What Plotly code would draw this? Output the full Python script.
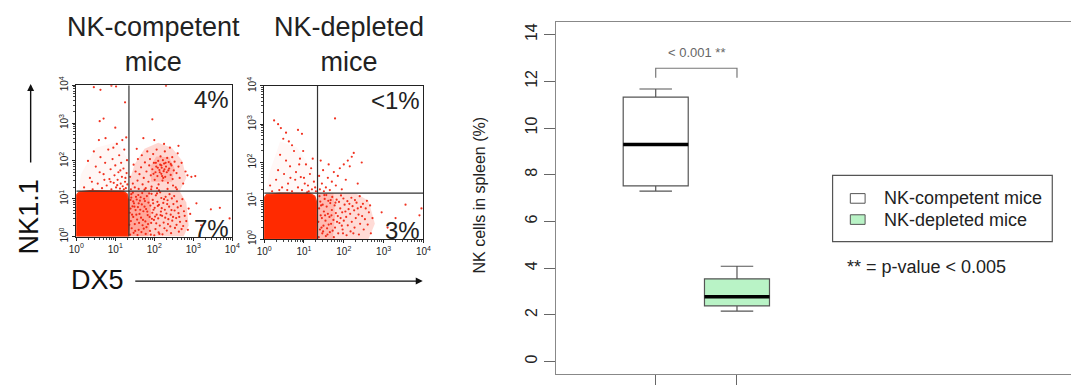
import math
import plotly.graph_objects as go

W, H = 1079, 390
FONT = "Arial, Liberation Sans, Helvetica, sans-serif"

# ---------------- flow cytometry data (log10 units of DX5 / NK1.1) ----------------
decade_ticks = [0, 1, 2, 3, 4]
decade_labels = ["10<sup>%d</sup>" % k for k in decade_ticks]
panel_titles = ["NK-competent<br>mice", "NK-depleted<br>mice"]
quadrant_pct = [("4%", "7%"), ("<1%", "3%")]
gate_x = [1.35, 1.34]
gate_y = [1.20, 1.20]

# dense lymphocyte core (outline of the saturated area)
core1 = [(0, 0), (1.33, 0), (1.35, 0.35), (1.34, 0.95), (1.30, 1.13), (1.20, 1.20), (0.35, 1.21), (0.08, 1.18), (0, 1.10)]
core2 = [(0, 0), (1.31, 0), (1.33, 0.40), (1.32, 0.95), (1.27, 1.12), (1.15, 1.19), (0.40, 1.20), (0.06, 1.16), (0, 1.08)]

# outlines of the dotted clouds, with their read density (0..1)
clouds1 = [
    ([(1.35, 0), (2.75, 0), (2.88, 0.3), (2.82, 0.9), (2.65, 1.2), (1.35, 1.2)], 0.22),
    ([(1.35, 0), (1.85, 0), (1.92, 0.6), (1.86, 1.2), (1.35, 1.2)], 0.25),
    ([(1.40, 1.2), (2.65, 1.2), (2.82, 1.55), (2.72, 2.0), (2.45, 2.35), (2.10, 2.48), (1.75, 2.32),
      (1.50, 1.92), (1.37, 1.5)], 0.18),
    ([(1.92, 1.45), (2.45, 1.45), (2.52, 1.8), (2.38, 2.1), (2.05, 2.12), (1.90, 1.85)], 0.18),
    ([(0.05, 1.2), (1.35, 1.2), (1.35, 2.0), (1.05, 2.5), (0.5, 2.35), (0.12, 1.65)], 0.04),
]
clouds2 = [
    ([(1.33, 0), (2.62, 0), (2.78, 0.4), (2.62, 1.0), (2.30, 1.2), (1.33, 1.2)], 0.17),
    ([(1.33, 0), (1.72, 0), (1.78, 0.6), (1.74, 1.2), (1.33, 1.2)], 0.18),
    ([(0.05, 1.2), (1.33, 1.2), (1.22, 1.8), (0.82, 2.4), (0.40, 2.55), (0.12, 1.7)], 0.03),
]

dots1 = [
    # lower-right quadrant
    (1.38,0.05),(1.42,0.22),(1.40,0.41),(1.37,0.63),(1.44,0.80),(1.39,0.97),(1.41,1.12),
    (1.47,0.10),(1.50,0.33),(1.46,0.52),(1.52,0.70),(1.48,0.88),(1.53,1.05),(1.45,1.16),
    (1.57,0.04),(1.60,0.18),(1.56,0.45),(1.62,0.60),(1.58,0.78),(1.63,0.95),(1.59,1.10),
    (1.67,0.12),(1.70,0.30),(1.66,0.50),(1.72,0.67),(1.68,0.85),(1.74,1.00),(1.69,1.15),
    (1.78,0.07),(1.80,0.25),(1.77,0.40),(1.83,0.57),(1.79,0.73),(1.85,0.90),(1.81,1.07),
    (1.89,0.15),(1.92,0.36),(1.88,0.52),(1.95,0.63),(1.90,0.82),(1.96,0.97),(1.93,1.13),
    (2.00,0.03),(2.03,0.20),(1.99,0.44),(2.06,0.58),(2.01,0.76),(2.08,0.92),(2.04,1.09),
    (2.11,0.11),(2.14,0.29),(2.10,0.48),(2.17,0.66),(2.12,0.84),(2.18,1.02),(2.15,1.17),
    (2.21,0.06),(2.24,0.37),(2.20,0.55),(2.27,0.71),(2.23,0.89),(2.29,1.05),
    (2.32,0.16),(2.35,0.33),(2.31,0.61),(2.38,0.79),(2.34,0.96),(2.39,1.12),
    (2.43,0.09),(2.46,0.42),(2.42,0.58),(2.49,0.86),(2.45,1.01),
    (2.53,0.23),(2.56,0.49),(2.52,0.69),(2.58,0.93),
    (2.63,0.13),(2.66,0.39),(2.62,0.62),(2.68,0.81),
    (2.74,0.28),(2.78,0.55),(2.72,0.99),(2.86,0.18),(2.88,0.74),
    (1.36,0.31),(1.43,0.58),(1.39,0.74),(1.46,0.93),(1.41,1.03),(1.51,0.15),(1.54,0.58),(1.49,0.79),
    (1.55,0.98),(1.61,0.36),(1.64,0.71),(1.60,0.88),(1.65,1.04),(1.73,0.21),(1.71,0.44),(1.75,0.79),
    (1.76,0.94),(1.84,0.33),(1.82,0.66),(1.87,1.14),(1.91,0.05),(1.94,0.47),(1.98,0.71),(1.97,0.88),
    (2.05,0.35),(2.02,0.53),(2.09,0.81),(2.07,1.14),(2.13,0.07),(2.16,0.57),(2.19,0.75),(2.26,0.22),
    (2.28,0.50),(2.25,0.99),(2.36,0.46),(2.33,0.86),(2.41,0.27),(2.44,0.70),(2.48,0.52),(2.51,1.07),
    (2.57,0.31),(2.60,0.77),(2.64,0.52),(2.70,0.20),(2.76,0.67),(2.82,0.41),(2.92,0.60),
    (3.08,0.88),(3.45,0.72),(3.68,0.76),(3.93,0.48),(3.20,0.30),
    # upper-right quadrant
    (1.40,1.25),(1.45,1.40),(1.38,1.58),(1.50,1.30),(1.52,1.72),(1.47,1.90),(1.57,1.48),(1.60,1.26),
    (1.62,1.65),(1.58,2.05),(1.66,1.83),(1.70,1.38),(1.68,2.15),(1.73,1.55),(1.76,1.96),(1.78,1.28),
    (1.80,1.72),(1.82,2.25),(1.85,1.45),(1.87,1.88),(1.89,2.05),(1.91,1.62),(1.93,1.32),(1.95,1.78),
    (1.97,2.18),(1.99,1.95),(2.01,1.50),(2.03,1.70),(2.05,1.85),(2.06,2.30),(2.08,1.60),(2.10,2.00),
    (2.11,1.38),(2.13,1.76),(2.15,1.90),(2.16,2.12),(2.18,1.66),(2.19,1.82),(2.21,1.48),(2.22,2.02),
    (2.24,1.73),(2.25,1.93),(2.27,2.25),(2.28,1.58),(2.30,1.85),(2.32,1.70),(2.33,2.08),(2.35,1.42),
    (2.37,1.97),(2.38,1.80),(2.40,2.35),(2.42,1.63),(2.44,1.88),(2.46,2.10),(2.47,1.52),(2.50,1.75),
    (2.52,1.98),(2.55,1.30),(2.57,1.68),(2.60,2.20),(2.62,1.85),(2.65,1.55),(2.70,1.95),(2.74,1.40),
    (2.80,1.72),(2.85,1.62),(2.95,1.58),(3.05,1.60),(2.62,2.40),(2.00,2.55),(1.72,2.60),(1.55,2.32),
    (2.25,2.45),(2.48,1.35),(1.92,1.25),(2.07,1.28),(2.12,1.22),(1.75,1.24),(2.34,1.26),(2.58,1.25),
    (2.20,1.60),(2.26,1.78),(2.14,1.70),(2.29,1.95),(2.09,1.82),(2.36,1.75),(2.18,1.88),(2.04,1.95),
    (1.98,1.66),(2.42,1.92),(2.23,1.55),
    # upper-left quadrant
    (0.20,1.30),(0.35,1.55),(0.42,1.25),(0.50,1.85),(0.55,1.40),(0.62,2.10),(0.66,1.28),(0.70,1.65),
    (0.74,1.95),(0.78,1.35),(0.82,2.30),(0.85,1.52),(0.88,1.78),(0.90,1.25),(0.93,2.05),(0.96,1.42),
    (0.98,1.62),(1.00,1.88),(1.02,1.30),(1.04,2.45),(1.06,1.50),(1.08,1.70),(1.10,2.15),(1.12,1.27),
    (1.14,1.40),(1.15,1.95),(1.17,1.58),(1.19,1.33),(1.21,1.80),(1.23,2.30),(1.25,1.45),(1.27,1.28),
    (1.29,1.68),(1.31,1.38),(1.30,2.02),(0.45,2.25),(0.30,2.00),(0.58,2.55),(0.75,2.60),(0.95,2.35),
    (1.18,2.55),(1.28,2.62),(1.22,1.25),(1.05,1.36),(0.88,1.45),(0.72,1.50),(1.26,1.55),(1.13,1.75),
    (0.60,1.70),(0.40,1.45),
    (0.60,3.05),(0.70,3.12),(1.00,2.88),(1.25,3.55),(0.45,3.95),(0.62,3.88),(0.90,3.99),(1.02,3.97),
    (2.30,3.99),(1.95,3.10),
]

dots2 = [
    # lower-right quadrant
    (1.37,0.05),(1.40,0.25),(1.36,0.45),(1.42,0.62),(1.38,0.80),(1.41,0.98),(1.39,1.12),
    (1.46,0.15),(1.49,0.35),(1.45,0.55),(1.50,0.72),(1.47,0.90),(1.52,1.05),
    (1.55,0.08),(1.58,0.28),(1.54,0.48),(1.60,0.66),(1.57,0.85),(1.61,1.00),(1.56,1.15),
    (1.65,0.18),(1.68,0.40),(1.64,0.58),(1.70,0.76),(1.66,0.94),(1.71,1.10),
    (1.75,0.05),(1.78,0.30),(1.74,0.50),(1.80,0.68),(1.77,0.88),(1.82,1.03),
    (1.86,0.15),(1.89,0.42),(1.85,0.60),(1.91,0.80),(1.88,0.97),(1.93,1.14),
    (1.97,0.25),(2.00,0.48),(1.96,0.70),(2.02,0.90),(1.99,1.06),
    (2.07,0.10),(2.10,0.36),(2.06,0.58),(2.12,0.78),(2.09,0.99),
    (2.17,0.20),(2.20,0.45),(2.16,0.66),(2.22,0.86),(2.19,1.08),
    (2.27,0.30),(2.30,0.55),(2.26,0.75),(2.32,0.95),
    (2.38,0.12),(2.41,0.40),(2.37,0.64),(2.43,0.84),(2.40,1.12),
    (2.50,0.25),(2.53,0.52),(2.48,0.92),(2.60,0.38),(2.63,0.70),(2.58,1.00),(2.68,0.15),(2.72,0.55),(2.66,0.88),
    (1.44,0.30),(1.53,0.62),(1.48,0.20),(1.62,0.38),(1.59,0.12),(1.72,0.22),(1.69,0.62),(1.83,0.45),
    (1.79,0.95),(1.95,0.35),(1.92,0.55),(2.04,0.72),(2.14,0.92),(2.24,0.15),(2.35,0.80),(2.46,0.60),
    (2.55,0.80),(1.43,0.88),(1.51,1.15),(1.67,1.02),(1.98,0.15),(2.28,1.02),
    (2.95,0.70),(3.10,0.30),(3.30,0.55),(3.55,0.90),(3.90,0.62),(3.95,0.80),
    # upper-left quadrant
    (0.25,3.10),(0.35,3.00),(0.42,2.90),(0.55,2.78),(0.48,2.62),(0.62,2.55),(0.70,2.45),(0.85,2.85),
    (0.95,2.75),(0.40,2.20),(0.55,2.05),(0.65,1.90),(0.75,2.30),(0.80,1.75),(0.90,2.10),(1.00,1.60),
    (1.05,1.95),(1.10,1.40),(1.15,1.70),(1.20,1.30),(1.25,1.50),(0.30,1.55),(0.45,1.35),(0.60,1.45),
    (0.70,1.25),(0.85,1.35),(0.95,1.28),(1.02,1.45),(1.12,1.25),(1.28,1.35),(0.35,1.80),(0.50,1.70),
    (0.78,1.55),(0.92,1.62),(1.18,1.85),(1.30,1.25),(0.20,1.25),(0.58,1.28),(0.66,1.60),(1.08,1.22),
    (0.88,1.95),(0.98,2.30),(1.22,2.10),(0.15,1.40),(0.38,1.28),
    # upper-right quadrant
    (1.40,1.30),(1.45,1.45),(1.55,1.35),(1.60,1.60),(1.70,1.50),(1.75,1.75),(1.85,1.65),(1.90,1.85),
    (2.00,1.95),(2.10,2.05),(2.20,2.15),(2.25,2.25),(2.15,1.90),(1.50,1.25),(1.65,1.28),(1.80,1.40),
    (1.95,1.30),(2.05,1.55),(1.38,1.65),(1.48,1.80),(1.78,3.15),(2.35,1.45),(2.45,2.00),(1.42,2.05),
    (1.62,1.95),
]

# ---------------- boxplot data ----------------
groups = ["NK-competent mice", "NK-depleted mice"]
positions = [1, 2]
lower_whisker = [7.30, 2.16]
q1 = [7.52, 2.38]
median = [9.29, 2.77]
q3 = [11.32, 3.54]
upper_whisker = [11.67, 4.08]
box_fill = ["#ffffff", "#b9f3c6"]
y_ticks = [0, 2, 4, 6, 8, 10, 12, 14]
bracket_low, bracket_high = 12.15, 12.56
p_label = "< 0.001 **"

# ---------------- layout helpers ----------------
def px(x):
    return x / W

def py(y):
    return 1 - y / H

RED_DOT = "#f01c08"

fig = go.Figure()

panels = [
    dict(core=core1, clouds=clouds1, dots=dots1, xd=[px(69.3), px(227.7)], yd=[py(236.7), py(79.3)]),
    dict(core=core2, clouds=clouds2, dots=dots2, xd=[px(260.0), px(421.7)], yd=[py(239.3), py(80.0)]),
]

minor_vals = []
for k in range(4):
    for m in range(2, 10):
        minor_vals.append(k + math.log10(m))


def closed(poly):
    return [c[0] for c in poly] + [poly[0][0]], [c[1] for c in poly] + [poly[0][1]]


for i, p in enumerate(panels):
    n = "" if i == 0 else str(i + 1)
    xa, ya = "x" + n, "y" + n
    for poly, dens in p["clouds"]:
        cx, cy = closed(poly)
        fig.add_trace(go.Scatter(x=cx, y=cy, fill="toself", fillcolor="rgba(255,40,10,%.3f)" % dens,
                                 mode="lines", line=dict(width=0, color="rgba(0,0,0,0)"), xaxis=xa, yaxis=ya,
                                 hoverinfo="skip"))
    cx, cy = closed(p["core"])
    fig.add_trace(go.Scatter(x=cx, y=cy, fill="toself", fillcolor="#ff2a00", mode="lines",
                             line=dict(width=1.5, color="#ff3a10"), xaxis=xa, yaxis=ya, hoverinfo="skip"))
    fig.add_trace(go.Scatter(x=[d[0] for d in p["dots"]], y=[d[1] for d in p["dots"]], mode="markers",
                             marker=dict(size=2.2, color=RED_DOT, opacity=0.9), xaxis=xa, yaxis=ya,
                             hoverinfo="skip"))
    # quadrant gate lines
    fig.add_shape(type="line", xref=xa, yref=ya, x0=gate_x[i], x1=gate_x[i], y0=0, y1=4,
                  line=dict(color="#333333", width=1.2))
    fig.add_shape(type="line", xref=xa, yref=ya, x0=0, x1=4, y0=gate_y[i], y1=gate_y[i],
                  line=dict(color="#333333", width=1.2))
    axcommon = dict(range=[0, 4], showgrid=False, zeroline=False, showline=True, linecolor="#222",
                    linewidth=1.2, mirror=True, ticks="outside", ticklen=3, tickcolor="#222",
                    tickvals=decade_ticks, ticktext=decade_labels,
                    tickfont=dict(family=FONT, size=10, color="#222"),
                    minor=dict(tickvals=minor_vals, ticks="outside", ticklen=2, tickcolor="#444"))
    fig.update_layout(**{
        "xaxis" + n: dict(domain=p["xd"], anchor=ya, **axcommon),
        "yaxis" + n: dict(domain=p["yd"], anchor=xa, tickangle=-90, **axcommon),
    })
    # percentages
    top, bottom = quadrant_pct[i]
    fig.add_annotation(x=3.97, y=3.62, xref=xa, yref=ya, text=top, showarrow=False, xanchor="right",
                       yanchor="middle", font=dict(family=FONT, size=24, color="#222"))
    fig.add_annotation(x=3.97, y=0.22, xref=xa, yref=ya, text=bottom, showarrow=False, xanchor="right",
                       yanchor="middle", font=dict(family=FONT, size=24, color="#222"))

# panel titles
for cx_px, title in zip([148, 346], panel_titles):
    fig.add_annotation(x=px(cx_px), y=py(37), xref="paper", yref="paper", text=title, showarrow=False,
                       xanchor="center", yanchor="middle",
                       font=dict(family=FONT, size=27, color="#222"), align="center")

# axis names with arrows
fig.add_annotation(x=px(21), y=py(216), xref="paper", yref="paper", text="NK1.1", textangle=-90,
                   showarrow=False, xanchor="center", yanchor="middle",
                   font=dict(family=FONT, size=27, color="#111"))
fig.add_annotation(x=px(23), y=py(78), xref="paper", yref="paper", ax=0, ay=80, text="",
                   showarrow=True, arrowhead=2, arrowsize=1, arrowwidth=1.4, arrowcolor="#111")
fig.add_annotation(x=px(91), y=py(282), xref="paper", yref="paper", text="DX5",
                   showarrow=False, xanchor="center", yanchor="middle",
                   font=dict(family=FONT, size=27, color="#111"))
fig.add_annotation(x=px(421), y=py(283), xref="paper", yref="paper", ax=-289, ay=0, text="",
                   showarrow=True, arrowhead=2, arrowsize=1, arrowwidth=1.4, arrowcolor="#111")

# ---------------- boxplot ----------------
BOX_W = 0.8
for i in range(len(groups)):
    fig.add_trace(go.Box(x=[positions[i]], q1=[q1[i]], median=[median[i]], q3=[q3[i]],
                         lowerfence=[lower_whisker[i]], upperfence=[upper_whisker[i]],
                         width=BOX_W, whiskerwidth=0.5, fillcolor=box_fill[i],
                         line=dict(color="#555555", width=1.2), name=groups[i],
                         xaxis="x3", yaxis="y3", hoverinfo="skip", boxpoints=False))
    fig.add_trace(go.Scatter(x=[positions[i] - BOX_W / 2, positions[i] + BOX_W / 2],
                             y=[median[i], median[i]], mode="lines",
                             line=dict(color="#000000", width=3.5), xaxis="x3", yaxis="y3",
                             hoverinfo="skip"))

# significance bracket
fig.add_trace(go.Scatter(x=[positions[0], positions[0], positions[1], positions[1]],
                         y=[bracket_low, bracket_high, bracket_high, bracket_low], mode="lines",
                         line=dict(color="#777777", width=1.2), xaxis="x3", yaxis="y3", hoverinfo="skip"))
fig.add_annotation(x=(positions[0] + positions[1]) / 2, y=13.25, xref="x3", yref="y3", text=p_label,
                   showarrow=False, font=dict(family=FONT, size=13, color="#666"))

fig.update_layout(
    xaxis3=dict(domain=[px(556), 1.0], anchor="y3", range=[-0.23, 6.11], showgrid=False, zeroline=False,
                showline=True, linecolor="#888", linewidth=1.2, mirror=True, ticks="outside", ticklen=10,
                tickcolor="#666", tickvals=positions, ticktext=["", ""], showticklabels=False),
    yaxis3=dict(domain=[py(380), py(14)], anchor="x3", range=[-0.55, 14.52], showgrid=False, zeroline=False,
                showline=True, linecolor="#888", linewidth=1.2, ticks="outside", ticklen=11,
                tickcolor="#666", tickvals=y_ticks, tickangle=-90,
                tickfont=dict(family=FONT, size=16, color="#222")),
)

fig.add_annotation(x=px(479), y=py(193), xref="paper", yref="paper", text="NK cells in spleen (%)",
                   textangle=-90, showarrow=False, xanchor="center", yanchor="middle",
                   font=dict(family=FONT, size=16, color="#222"))

# legend (drawn box)
fig.add_shape(type="rect", xref="paper", yref="paper", x0=px(837), x1=px(1060), y0=py(242), y1=py(173),
              line=dict(color="#555", width=1.2), fillcolor="white")
leg_rows = [197, 219]
for i in range(len(groups)):
    fig.add_shape(type="rect", xref="paper", yref="paper", x0=px(855), x1=px(870), y0=py(leg_rows[i] + 5),
                  y1=py(leg_rows[i] - 5), line=dict(color="#555", width=1), fillcolor=box_fill[i])
    fig.add_annotation(x=px(887), y=py(leg_rows[i]), xref="paper", yref="paper", text=groups[i],
                       showarrow=False, xanchor="left", yanchor="middle",
                       font=dict(family=FONT, size=18, color="#222"))
fig.add_annotation(x=px(850), y=py(268), xref="paper", yref="paper", text="** = p-value < 0.005",
                   showarrow=False, xanchor="left", yanchor="middle", font=dict(family=FONT, size=18, color="#222"))

fig.update_layout(width=W, height=H, margin=dict(l=0, r=0, t=0, b=0), paper_bgcolor="white",
                  plot_bgcolor="white", showlegend=False)

fig.write_html("out.html")
